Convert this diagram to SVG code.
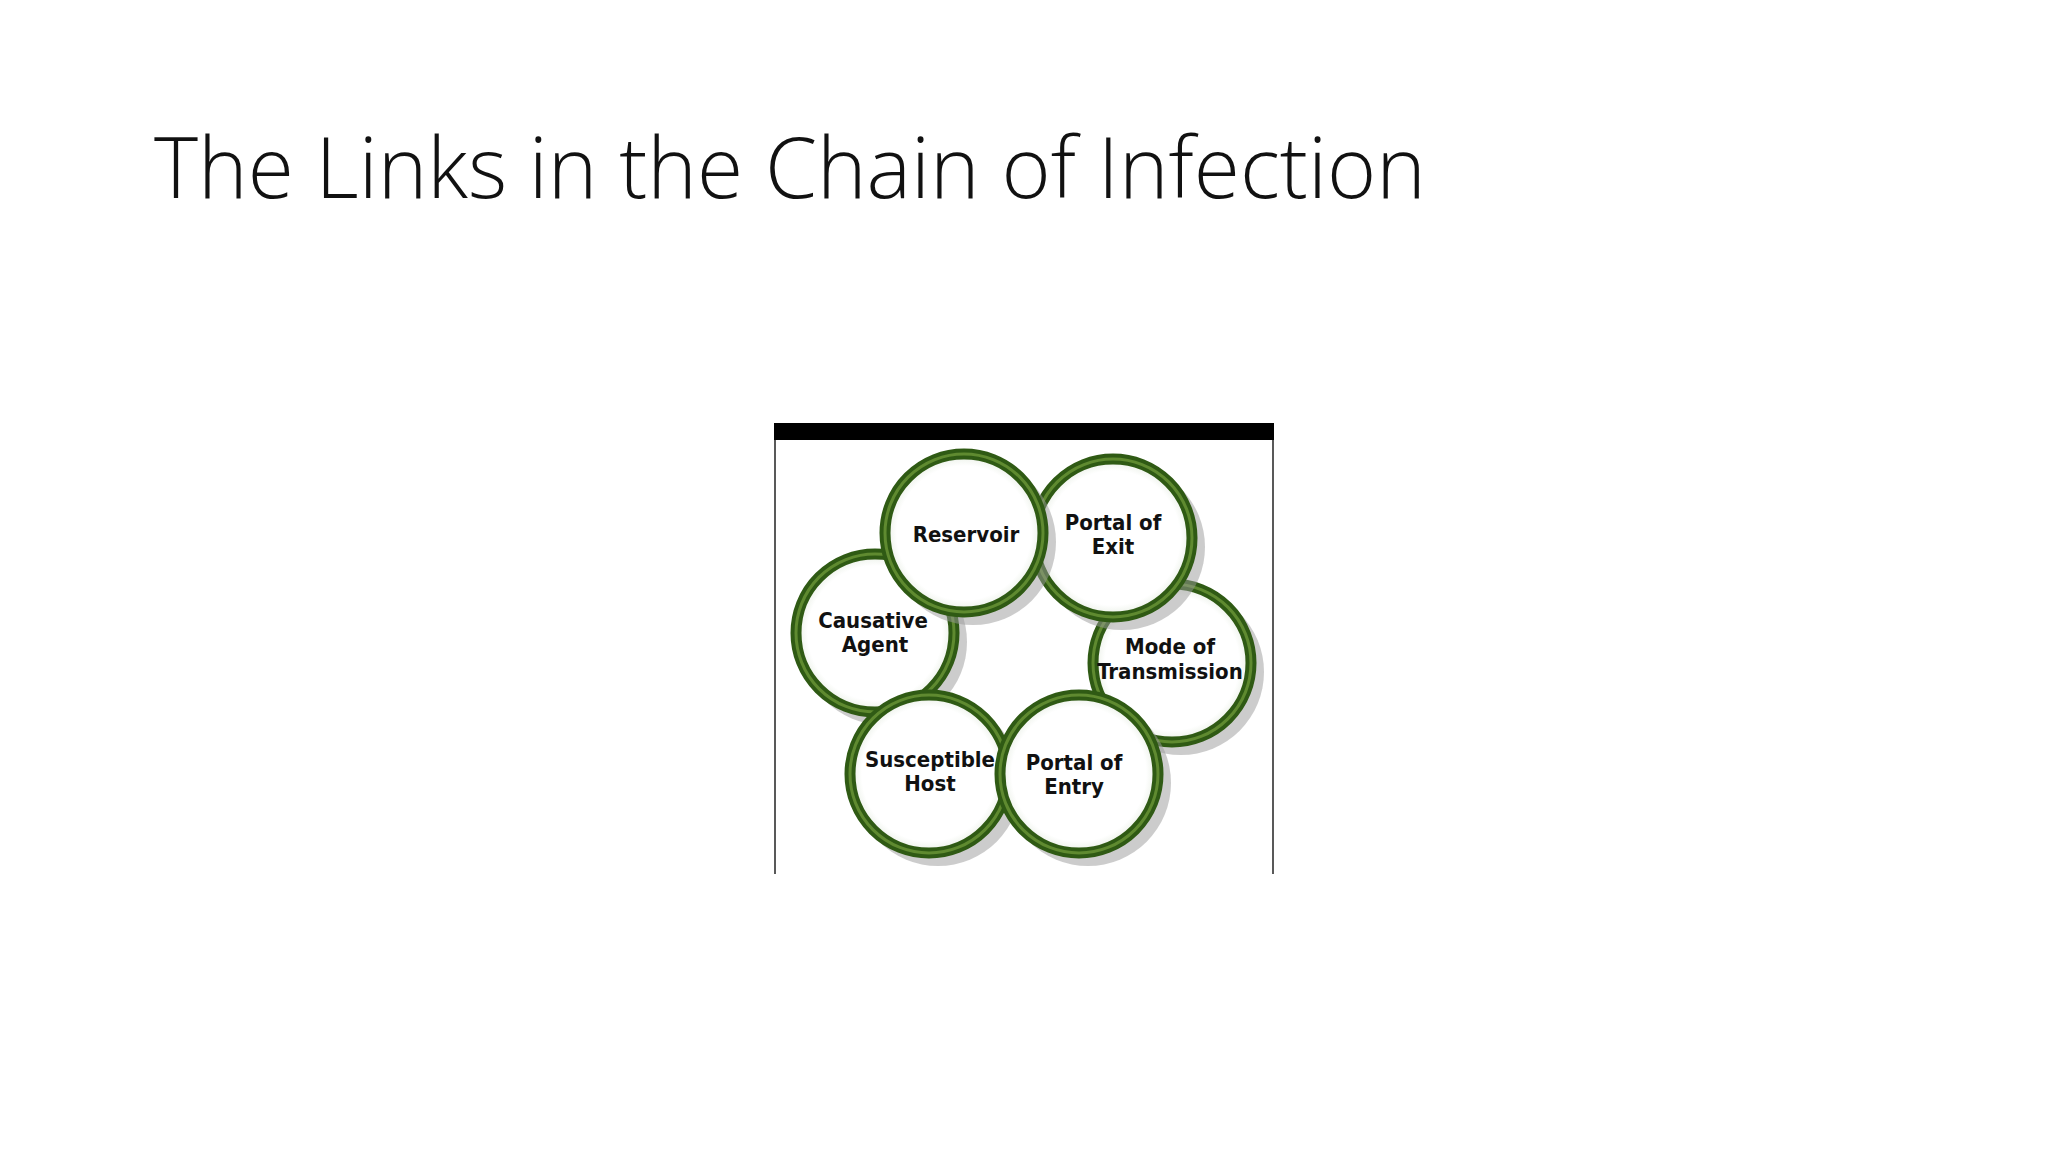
<svg xmlns="http://www.w3.org/2000/svg" width="2048" height="1152" viewBox="0 0 2048 1152">
<defs>
<radialGradient id="rg" cx="0.5" cy="0.5" r="0.5">
<stop offset="0.85" stop-color="#ffffff"/><stop offset="1" stop-color="#e8eee4"/>
</radialGradient>
<style>
.sh{fill:#9a9a9a;opacity:0.5}
.ring{fill:url(#rg);stroke:#2f5a14;stroke-width:11}
.ring2{fill:none;stroke:#5f8a30;stroke-width:3}
.t{font-family:"DejaVu Sans Condensed","DejaVu Sans",sans-serif;font-weight:bold;font-size:22px;fill:#111;text-anchor:middle}
</style>
</defs>
<rect width="2048" height="1152" fill="#fff"/>
<text x="154" y="198" font-family="'Open Sans',sans-serif" font-weight="300" font-size="84" fill="#111">The Links in the Chain of Infection</text>
<g id="frame">
<line x1="775" y1="430" x2="775" y2="874" stroke="#222" stroke-width="1.5"/>
<line x1="1273" y1="430" x2="1273" y2="874" stroke="#222" stroke-width="1.5"/>
<rect x="774" y="423" width="500" height="17" fill="#000"/>
</g>
<g id="causative"><circle class="sh" cx="884" cy="642" r="83"/><circle class="ring" cx="875" cy="633" r="79"/><circle class="ring2" cx="875" cy="633" r="79"/><text class="t" x="873" y="628">Causative</text><text class="t" x="875" y="652">Agent</text></g>
<g id="mode"><circle class="sh" cx="1181" cy="672" r="83"/><circle class="ring" cx="1172" cy="663" r="79"/><circle class="ring2" cx="1172" cy="663" r="79"/><text class="t" x="1170" y="654">Mode of</text><text class="t" x="1170" y="679">Transmission</text></g>
<g id="exit"><circle class="sh" cx="1122" cy="547" r="83"/><circle class="ring" cx="1113" cy="538" r="79"/><circle class="ring2" cx="1113" cy="538" r="79"/><text class="t" x="1113" y="530">Portal of</text><text class="t" x="1113" y="554">Exit</text></g>
<g id="reservoir"><circle class="sh" cx="973" cy="542" r="83"/><circle class="ring" cx="964" cy="533" r="79"/><circle class="ring2" cx="964" cy="533" r="79"/><text class="t" x="966" y="542">Reservoir</text></g>
<g id="host"><circle class="sh" cx="938" cy="783" r="83"/><circle class="ring" cx="929" cy="774" r="79"/><circle class="ring2" cx="929" cy="774" r="79"/><text class="t" x="930" y="767">Susceptible</text><text class="t" x="930" y="791">Host</text></g>
<g id="entry"><circle class="sh" cx="1088" cy="783" r="83"/><circle class="ring" cx="1079" cy="774" r="79"/><circle class="ring2" cx="1079" cy="774" r="79"/><text class="t" x="1074" y="770">Portal of</text><text class="t" x="1074" y="794">Entry</text></g>
<g id="connectors"/>
</svg>
